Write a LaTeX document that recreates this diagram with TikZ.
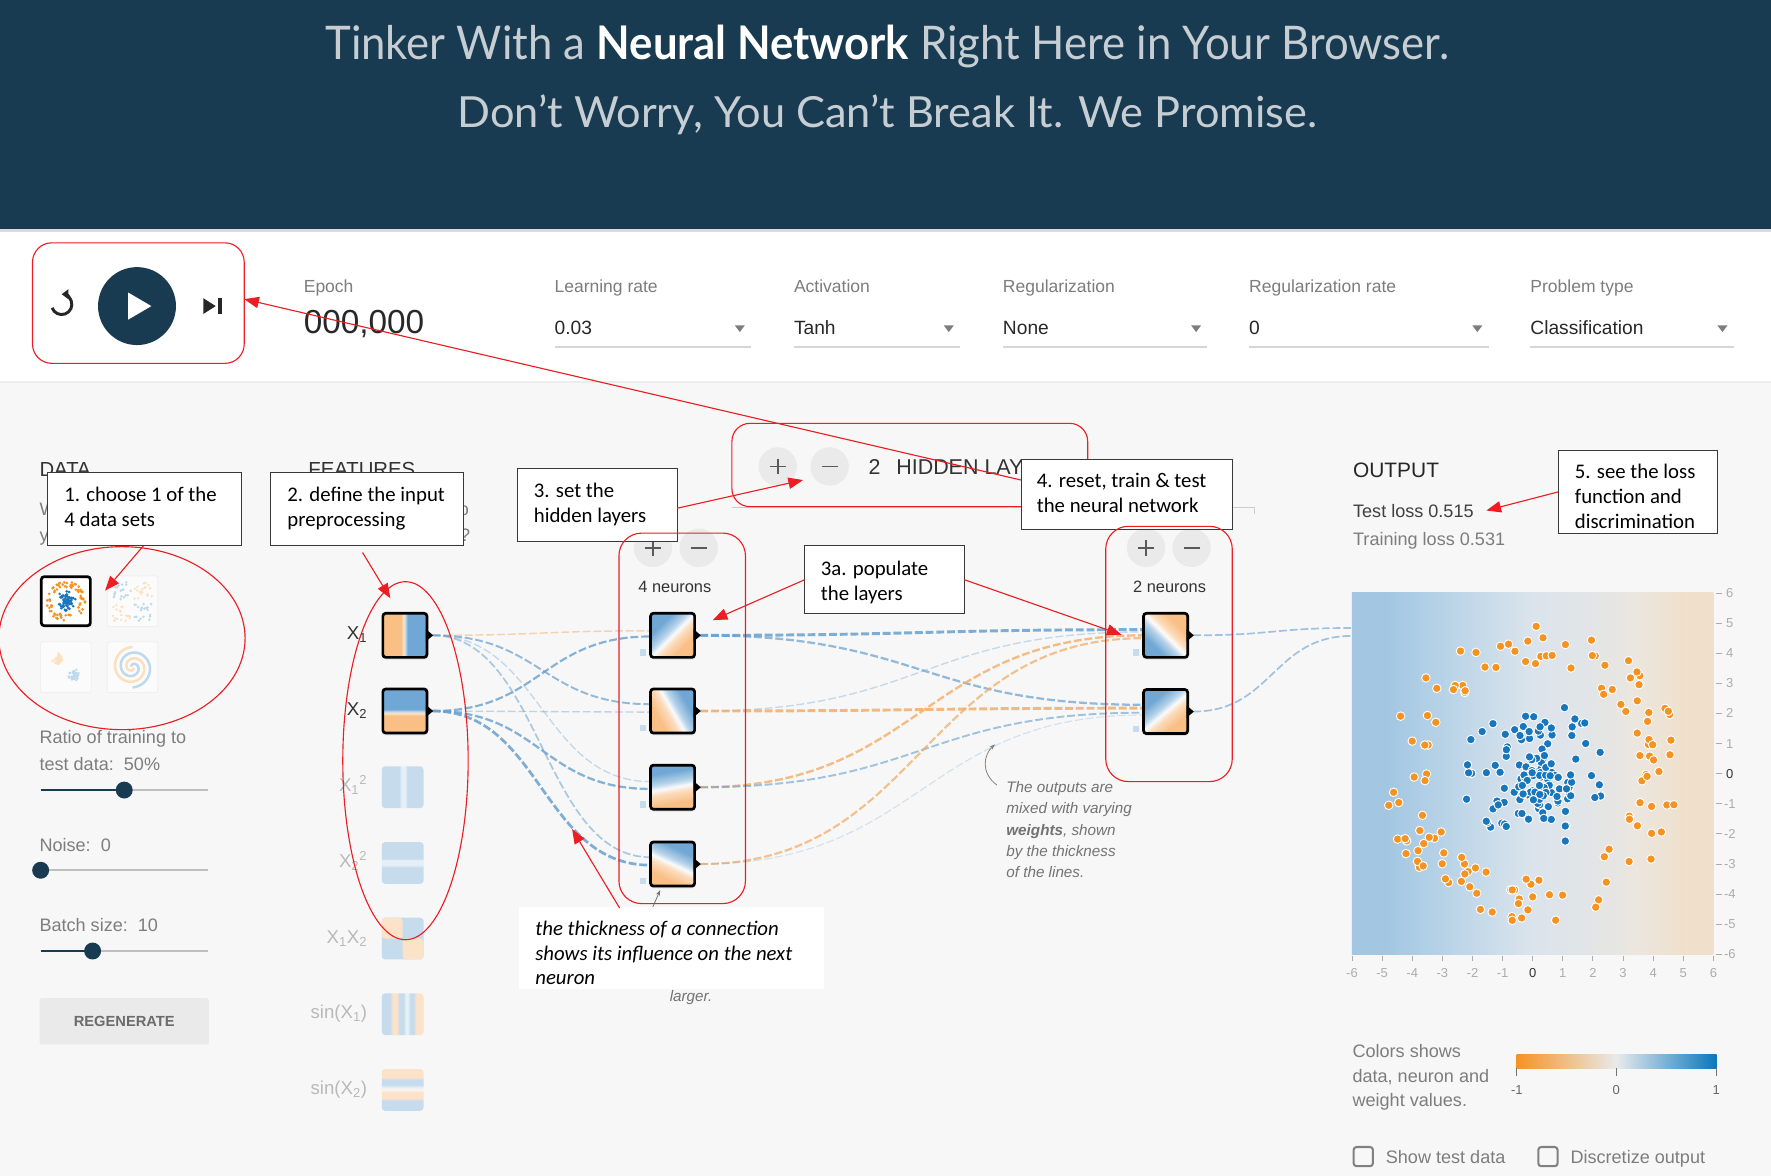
\documentclass[tikz,border=0pt]{standalone}
\usepackage{fontspec}
\usepackage{graphicx}
\setmainfont{Liberation Sans}
\newfontfamily\calfont{Carlito}
\newfontfamily\ttlfont{Lato}
\usetikzlibrary{arrows.meta,calc,shadows,shapes.geometric}

\definecolor{headbg}{RGB}{25,59,81}
\definecolor{headtxt}{RGB}{198,206,212}
\definecolor{pagebg}{RGB}{247,247,247}
\definecolor{lblgray}{RGB}{125,125,125}
\definecolor{valdark}{RGB}{40,40,40}
\definecolor{ulgray}{RGB}{214,214,214}
\definecolor{annred}{RGB}{236,30,36}
\definecolor{nblue}{RGB}{112,167,212}
\definecolor{norange}{RGB}{249,191,133}
\definecolor{lblue}{RGB}{198,220,237}
\definecolor{lorange}{RGB}{251,226,201}
\definecolor{wblue}{RGB}{104,160,206}
\definecolor{worange}{RGB}{242,174,104}
\definecolor{ptorange}{RGB}{245,147,34}
\definecolor{ptblue}{RGB}{24,118,188}
\definecolor{btngray}{RGB}{234,234,234}
\definecolor{faint}{RGB}{185,185,185}
\definecolor{pb1}{RGB}{163,199,226}
\definecolor{pb2}{RGB}{190,214,232}
\definecolor{pb3}{RGB}{219,228,236}
\definecolor{pb4}{RGB}{235,230,223}
\definecolor{pb5}{RGB}{240,223,202}
\definecolor{cmid}{RGB}{232,234,236}
\definecolor{tickgray}{RGB}{172,172,172}
\definecolor{cbblue}{RGB}{8,119,189}

\pgfdeclareverticalshading{neur}{100bp}{color(0bp)=(norange); color(32bp)=(norange); color(44bp)=(norange!55!white); color(50bp)=(white!95!nblue); color(56bp)=(nblue!50!white); color(68bp)=(nblue); color(100bp)=(nblue)}
\pgfdeclareverticalshading{neurinv}{100bp}{color(0bp)=(nblue); color(32bp)=(nblue); color(44bp)=(nblue!50!white); color(50bp)=(white!95!norange); color(56bp)=(norange!55!white); color(68bp)=(norange); color(100bp)=(norange)}
\pgfdeclarehorizontalshading{fxone}{100bp}{color(0bp)=(norange); color(45.5bp)=(norange); color(48.5bp)=(norange!45!white); color(50.5bp)=(nblue!45!white); color(53bp)=(nblue); color(100bp)=(nblue)}
\pgfdeclareverticalshading{fxtwo}{100bp}{color(0bp)=(norange); color(44.5bp)=(norange); color(47.5bp)=(norange!45!white); color(49.5bp)=(nblue!45!white); color(52bp)=(nblue); color(100bp)=(nblue)}
\pgfdeclarehorizontalshading{fsqa}{100bp}{color(0bp)=(lblue); color(46bp)=(lblue); color(48.5bp)=(lblue!45!white); color(53bp)=(lblue!45!white); color(55.5bp)=(lblue); color(100bp)=(lblue)}
\pgfdeclareverticalshading{fsqb}{100bp}{color(0bp)=(lblue); color(45bp)=(lblue); color(47.5bp)=(lblue!45!white); color(53bp)=(lblue!45!white); color(55.5bp)=(lblue); color(100bp)=(lblue)}
\pgfdeclarehorizontalshading{fsqc}{100bp}{color(0bp)=(lblue); color(35bp)=(lblue); color(38bp)=(lorange); color(43bp)=(lorange); color(46bp)=(lblue); color(51bp)=(lblue); color(54bp)=(lblue!40!white); color(56bp)=(lblue!40!white); color(59bp)=(lblue); color(63bp)=(lblue); color(66bp)=(lorange); color(100bp)=(lorange)}
\pgfdeclareverticalshading{fsqd}{100bp}{color(0bp)=(lblue); color(37bp)=(lblue); color(40bp)=(lorange); color(47bp)=(lorange); color(50bp)=(lorange!40!white); color(53bp)=(lblue!40!white); color(56bp)=(lblue); color(62bp)=(lblue); color(65bp)=(lorange); color(100bp)=(lorange)}
\pgfdeclarehorizontalshading{plotbg}{100bp}{color(0bp)=(pb1); color(30bp)=(pb1); color(40bp)=(pb2); color(50bp)=(pb3); color(58bp)=(pb3!60!pb4); color(64bp)=(pb4); color(72bp)=(pb5); color(100bp)=(pb5)}
\pgfdeclarehorizontalshading{cbar}{100bp}{color(0bp)=(ptorange); color(25bp)=(ptorange); color(50bp)=(cmid); color(75bp)=(cbblue); color(100bp)=(cbblue)}

\newcounter{tn}
\newcommand\calltxt[3]{\stepcounter{tn}\node[calltext] (ct\arabic{tn}) at (#1,#2) {#3};}
\newcommand\calltxti[3]{\stepcounter{tn}\node[calltexti] (ct\arabic{tn}) at (#1,#2) {#3};}
\newcommand\pmplus[1]{\draw[line width=1.6pt,black!65] ($(#1)+(-7,0)$) -- ($(#1)+(7,0)$) ($(#1)+(0,-7)$) -- ($(#1)+(0,7)$);}
\newcommand\pmminus[1]{\draw[line width=1.6pt,black!65] ($(#1)+(-7,0)$) -- ($(#1)+(7,0)$);}

\begin{document}
\begin{tikzpicture}[x=1pt,y=-1pt,
  every node/.style={inner sep=0pt,outer sep=0pt},
  lbl/.style={anchor=base west,text=lblgray,font=\fontsize{15.5}{18}\selectfont},
  val/.style={anchor=base west,text=valdark,font=\fontsize{17}{20}\selectfont},
  ptxt/.style={anchor=base west,text=lblgray,font=\fontsize{16}{19}\selectfont},
  flab/.style={anchor=base east,text=black!80,font=\fontsize{16.5}{19}\selectfont},
  flabf/.style={anchor=base east,text=faint,font=\fontsize{16.5}{19}\selectfont},
  callbox/.style={draw=black!78,line width=0.9pt,fill=white,anchor=north west},
  calltext/.style={anchor=base west,text=black,font=\calfont\fontsize{18.4}{22}\selectfont},
  calltexti/.style={anchor=base west,text=black,font=\calfont\itshape\fontsize{18.4}{22}\selectfont},
  anntx/.style={anchor=base west,text=black!55,font=\itshape\fontsize{13.5}{15}\selectfont},
  redbox/.style={draw=annred,line width=1pt,anchor=north west},
  redarr/.style={draw=annred,line width=1pt,-{Triangle[length=13pt,width=10pt]}},
  conn/.style={dash pattern=on 7pt off 2.5pt},
  bconn/.style={conn,draw=wblue,line width=#1},
  oconn/.style={conn,draw=worange,line width=#1},
  shad/.style={drop shadow={shadow xshift=0.5pt,shadow yshift=-2pt,opacity=0.2}},
  actbox/.style={draw=black,line width=2.4pt,rounded corners=2.5pt,minimum size=39pt,shade,shad},
  fadebox/.style={minimum size=37pt,rounded corners=3pt},
  pmc/.style={circle,fill=btngray,minimum size=#1},
  thumbbox/.style={draw=black!6,line width=0.8pt,fill=white!55!pagebg,rounded corners=2pt,minimum size=45pt},
  axlab/.style={text=tickgray,font=\fontsize{11.5}{12}\selectfont},
  cbx/.style={draw=black!50,line width=1.8pt,rounded corners=2.5pt,minimum size=17pt},
]
\useasboundingbox (0,0) rectangle (1568,1041);
% ---------- backgrounds
\fill[pagebg] (0,0) rectangle (1568,1041);
\fill[white] (0,205) rectangle (1568,337);
\fill[black!7] (0,337) rectangle (1568,339.5);
\fill[black!14] (0,203) rectangle (1568,205.5);
\fill[headbg] (0,0) rectangle (1568,203);

% ---------- header
\node[anchor=base west] (title1) at (288,52.5) {\resizebox{995pt}{30.5pt}{\ttlfont\color{headtxt}Tinker With a \textcolor{white}{\bfseries Neural Network} Right Here in Your Browser.}};
\node[anchor=base west] (title2) at (405,113) {\resizebox{761pt}{29pt}{\ttlfont\color{headtxt}Don’t Worry, You Can’t Break It. We Promise.}};

% ---------- control bar
\coordinate (rst) at (54.6,269.5);
\draw[line width=2.6pt,black!85,-{Triangle[length=6pt,width=8.5pt]}] ($(rst)+(-200:9)$) arc[start angle=-200,end angle=-450,radius=9];
\node[circle,fill=headbg,minimum size=69pt] (play) at (121.3,271) {};
\fill[white] (113.5,259) -- (134,271) -- (113.5,283) -- cycle;
\fill[black!85] (180,264) -- (191,271) -- (180,278) -- cycle;
\fill[black!85] (193,264) rectangle (196.5,278);
\node[lbl] (epl) at (269,259) {Epoch};
\node[anchor=base west,text=valdark,font=\fontsize{29.5}{30}\selectfont] (epv) at (269,295) {000,000};
\foreach \nm/\x/\w/\lab/\v in {lr/491/174/Learning rate/0.03, ac/703/147/Activation/Tanh, rg/888/181/Regularization/None, rr/1106/212/Regularization rate/0, pt/1355/180/Problem type/Classification}{
  \node[lbl] (\nm-l) at (\x,259) {\lab};
  \node[val] (\nm-v) at (\x,296) {\v};
  \draw[ulgray,line width=2pt] (\x,307) -- ++(\w,0);
  \fill[lblgray] ({\x+\w-14.5},288) -- ++(9,0) -- ++(-4.5,6) -- cycle;
}

% ---------- left panel texts
\node[anchor=base west,text=black!80,font=\fontsize{18}{20}\selectfont] (datah) at (35,422) {DATA};
\node[anchor=base west,text=black!80,font=\fontsize{18}{20}\selectfont] (feath) at (273,422) {FEATURES};
\node[ptxt] (dq1) at (35,456) {Which dataset do};
\node[ptxt] (dq2) at (35,479) {you want to use?};
\node[ptxt] (fq1) at (273,456) {Which properties do};
\node[ptxt] (fq2) at (273,479) {you want to feed in?};

% data thumbnails
\pgfmathsetseed{4711}
\node[draw=black,line width=2.4pt,fill=white,rounded corners=2.5pt,minimum size=43.4pt] (ds1) at (58.3,532.3) {};
\foreach \i in {1,...,75}{
  \pgfmathsetmacro\myang{360*rnd}\pgfmathsetmacro\myrad{3.5*(3.5+1.5*rnd)}
  \fill[ptorange] ({58.3+\myrad*cos(\myang)},{532.3+\myrad*sin(\myang)}) circle[radius=1.3];}
\foreach \i in {1,...,75}{
  \pgfmathsetmacro\myang{360*rnd}\pgfmathsetmacro\myrad{3.5*2.5*rnd}
  \fill[ptblue] ({58.3+\myrad*cos(\myang)},{532.3+\myrad*sin(\myang)}) circle[radius=1.3];}
\node[thumbbox] (ds2) at (117.3,532.3) {};
\foreach \sx/\sy/\col in {-1/-1/ptblue, 1/-1/ptorange, -1/1/ptorange, 1/1/ptblue}{
  \foreach \i in {1,...,20}{
    \pgfmathsetmacro\px{117.3+\sx*3.5*(0.4+4.6*rnd)}
    \pgfmathsetmacro\py{532.3+\sy*3.5*(0.4+4.6*rnd)}
    \fill[\col!28!white] (\px,\py) circle[radius=1.2];}}
\node[thumbbox] (ds3) at (58.3,590.7) {};
\foreach \cx/\cy/\col in {51.3/583.7/ptorange, 65.5/598/ptblue}{
  \foreach \i in {1,...,40}{
    \pgfmathsetmacro\px{\cx+4.2*(rnd+rnd+rnd-1.5)}
    \pgfmathsetmacro\py{\cy+4.2*(rnd+rnd+rnd-1.5)}
    \fill[\col!28!white] (\px,\py) circle[radius=1.2];}}
\node[thumbbox] (ds4) at (117.3,590.7) {};
\draw[ptorange!30!white,line width=2.2pt] plot[smooth,domain=0.05:1,samples=60] ({117.3+18*\x*cos(630*\x)},{590.7+18*\x*sin(630*\x)});
\draw[ptblue!28!white,line width=2.2pt] plot[smooth,domain=0.05:1,samples=60] ({117.3+18*\x*cos(630*\x+180)},{590.7+18*\x*sin(630*\x+180)});

% sliders
\node[ptxt] (ratio1) at (35,658) {Ratio of training to};
\node[ptxt] (ratio2) at (35,682.3) {test data:\ \ 50\%};
\draw[black!25,line width=2pt] (36,699.5) -- (184,699.5);
\draw[headbg,line width=2.4pt] (36,699.5) -- (110,699.5);
\node[circle,fill=headbg,minimum size=15pt] (k1) at (110,699.5) {};
\node[ptxt] (noise) at (35,754) {Noise:\ \ 0};
\draw[black!25,line width=2pt] (36,770.5) -- (184,770.5);
\node[circle,fill=headbg,minimum size=15pt] (k2) at (36,770.5) {};
\node[ptxt] (batch) at (35,825) {Batch size:\ \ 10};
\draw[black!25,line width=2pt] (36,842) -- (184,842);
\draw[headbg,line width=2.4pt] (36,842) -- (82,842);
\node[circle,fill=headbg,minimum size=15pt] (k3) at (82,842) {};
\node[fill=btngray,minimum width=150pt,minimum height=41pt,rounded corners=2pt,font=\bfseries\fontsize{13}{14}\selectfont,text=black!58] (regen) at (110,904.3) {REGENERATE};

% ---------- feature nodes
\node[actbox,shading=fxone] (fx1) at (358.5,562.5) {};
\node[actbox,shading=fxtwo] (fx2) at (358.5,629.5) {};
\node[fadebox,shade,shading=fsqa] (fx3) at (356.5,697) {};
\node[fadebox,shade,shading=fsqb] (fx4) at (356.5,764) {};
\node[fadebox,fill=lblue,path picture={
   \fill[lorange] (path picture bounding box.north west) rectangle (path picture bounding box.center);
   \fill[lorange] (path picture bounding box.center) rectangle (path picture bounding box.south east);}] (fx5) at (356.5,831) {};
\node[fadebox,shade,shading=fsqc] (fx6) at (356.5,898) {};
\node[fadebox,shade,shading=fsqd] (fx7) at (356.5,965) {};
\node[flab] (lx1) at (325,566.5) {X\textsubscript{1}};
\node[flab] (lx2) at (325,633.5) {X\textsubscript{2}};
\node[flabf] (lx3) at (325,701) {X\textsubscript{1}\textsuperscript{2}};
\node[flabf] (lx4) at (325,768) {X\textsubscript{2}\textsuperscript{2}};
\node[flabf] (lx5) at (325,835) {X\textsubscript{1}X\textsubscript{2}};
\node[flabf] (lx6) at (325,902) {sin(X\textsubscript{1})};
\node[flabf] (lx7) at (325,969) {sin(X\textsubscript{2})};

% layer 1 header
\node[pmc=34pt] (p1) at (578,485) {}; \pmplus{p1}
\node[pmc=34pt] (q1) at (618.6,485) {}; \pmminus{q1}
\node[anchor=base,text=black!80,font=\fontsize{14.5}{16}\selectfont] (l1t) at (597.5,524.4) {4 neurons};
% layer 2 header
\node[pmc=34pt] (p2) at (1014.7,485) {}; \pmplus{p2}
\node[pmc=34pt] (q2) at (1055,485) {}; \pmminus{q2}
\node[anchor=base,text=black!80,font=\fontsize{14.5}{16}\selectfont] (l2t) at (1035.5,524.4) {2 neurons};

% hidden layers header
\draw[black!20,line width=1pt] (648,449) -- (1111,449) -- (1111,455);
\node[pmc=34pt] (ph) at (688.6,413) {}; \pmplus{ph}
\node[pmc=34pt] (qh) at (734.5,413) {}; \pmminus{qh}
\node[anchor=base west,text=black!80,font=\fontsize{19}{20}\selectfont] (hl) at (769,419.8) {2\hspace{14pt}HIDDEN LAYERS};
\node[redbox,rounded corners=16pt,minimum width=315pt,minimum height=73.8pt] (rhid) at (648,374.8) {};

% coordinates of neuron centres and connector ends
\path (595.5,562.5) coordinate (cn1) (595.5,629.5) coordinate (cn2) (595.5,697) coordinate (cn3) (595.5,765) coordinate (cn4) (1032,562.5) coordinate (cm1) (1032,630) coordinate (cm2);
\coordinate (sx1) at ($(fx1.east)+(5,0)$);
\coordinate (sx2) at ($(fx2.east)+(5,0)$);
\foreach \k in {1,2,3,4}{\coordinate (sn\k) at ($(cn\k)+(24.5,0)$); \coordinate (en\k) at ($(cn\k)+(-19.5,0)$);}
\foreach \k in {1,2}{\coordinate (sm\k) at ($(cm\k)+(24.5,0)$); \coordinate (em\k) at ($(cm\k)+(-19.5,0)$);}

% plot node (background)
\node[minimum size=320pt,shade,shading=plotbg] (plot) at (1357,685) {};

% ---------- connections input -> layer 1
\draw[oconn=1.3,opacity=.5] (sx1) .. controls +(96,0) and +(-96,0) .. ($(en1)+(0,-4)$);
\draw[bconn=1.9,opacity=.8] (sx2) .. controls +(96,0) and +(-96,0) .. ($(en1)+(0,1)$);
\draw[bconn=1.7,opacity=.7] (sx1) .. controls +(96,0) and +(-96,0) .. ($(en2)+(0,-6)$);
\draw[bconn=1.2,opacity=.4] (sx2) .. controls +(96,0) and +(-96,0) .. ($(en2)+(0,1)$);
\draw[bconn=1.2,opacity=.35] (sx1) .. controls +(96,0) and +(-96,0) .. ($(en3)+(0,-5)$);
\draw[bconn=2.0,opacity=.8] (sx2) .. controls +(96,0) and +(-96,0) .. ($(en3)+(0,1.5)$);
\draw[bconn=1.5,opacity=.55] (sx1) .. controls +(96,0) and +(-96,0) .. ($(en4)+(0,-6)$);
\draw[bconn=2.4,opacity=.85] (sx2) .. controls +(96,0) and +(-96,0) .. ($(en4)+(0,1)$);
% layer 1 -> layer 2
\draw[bconn=2.6,opacity=.85] (sn1) .. controls +(196,0) and +(-196,0) .. ($(em1)+(0,-5)$);
\draw[bconn=2.0,opacity=.7] (sn1) .. controls +(196,0) and +(-196,0) .. ($(em2)+(0,-6)$);
\draw[bconn=1.2,opacity=.35] (sn2) .. controls +(196,0) and +(-196,0) .. ($(em1)+(0,-3)$);
\draw[oconn=2.6,opacity=.85] (sn2) .. controls +(196,0) and +(-196,0) .. ($(em2)+(0,-3)$);
\draw[oconn=2.1,opacity=.8] (sn3) .. controls +(196,0) and +(-196,0) .. ($(em1)+(0,0)$);
\draw[bconn=1.7,opacity=.6] (sn3) .. controls +(196,0) and +(-196,0) .. ($(em2)+(0,1)$);
\draw[oconn=1.9,opacity=.75] (sn4) .. controls +(196,0) and +(-196,0) .. ($(em1)+(0,2.5)$);
\draw[bconn=1.0,opacity=.25] (sn4) .. controls +(196,0) and +(-196,0) .. ($(em2)+(0,3)$);
% layer 2 -> output
\draw[bconn=1.5,opacity=.6] (sm1) .. controls +(70,0) and +(-70,0) .. ($(plot.north west)+(0,31)$);
\draw[bconn=1.5,opacity=.6] (sm2) .. controls +(70,0) and +(-70,0) .. ($(plot.north west)+(0,38)$);

% ---------- neurons
\node[actbox,shading=neur,shading angle=45] (n1) at (cn1) {};
\node[actbox,shading=neur,shading angle=-60] (n2) at (cn2) {};
\node[actbox,shading=neur,shading angle=10] (n3) at (cn3) {};
\node[actbox,shading=neur,shading angle=-25] (n4) at (cn4) {};
\node[actbox,shading=neurinv,shading angle=-45] (m1) at (cm1) {};
\node[actbox,shading=neur,shading angle=40] (m2) at (cm2) {};
\foreach \nd in {fx1,fx2,n1,n2,n3,n4,m1,m2}{
  \fill[black] ($(\nd.east)+(-1,-5.5)$) -- ++(6.5,5.5) -- ++(-6.5,5.5) -- cycle;}
\foreach \nd in {n1,n2,n3,n4,m1,m2}{
  \fill[lblue] ($(\nd.south west)+(-9.5,-7)$) rectangle ++(5.5,5.5);}

% ---------- annotation of outputs
\node[anntx] (an1) at (891,702) {The outputs are};
\node[anntx] (an2) at (891,720.5) {mixed with varying};
\node[anntx] (an3) at (891,739.5) {\textbf{weights}, shown};
\node[anntx] (an4) at (891,758) {by the thickness};
\node[anntx] (an5) at (891,776.5) {of the lines.};
\coordinate (ga1) at (882.5,695); \coordinate (ga2) at (881,659);
\draw[black!50,line width=0.7pt,-{Stealth[length=5pt,width=3.5pt]}] (ga1) .. controls (868,684) and (871,668) .. (ga2);
\coordinate (gb1) at (578,803); \coordinate (gb2) at (584.5,788);
\draw[black!55,line width=0.7pt,-{Stealth[length=5pt,width=3.5pt]}] (gb1) -- (gb2);
\node[anntx] (larger) at (593,887) {larger.};

% ---------- output panel
\node[anchor=base west,text=black!85,font=\fontsize{18.5}{20}\selectfont] (outh) at (1198,423) {OUTPUT};
\node[anchor=base west,text=black!75,font=\fontsize{16}{18}\selectfont] (tloss) at (1198,458.5) {Test loss 0.515};
\node[anchor=base west,text=lblgray,font=\fontsize{16}{18}\selectfont] (trloss) at (1198,483) {Training loss 0.531};
\pgfmathsetseed{2718}
\foreach \i in {1,...,130}{
  \pgfmathsetmacro\myang{360*rnd}\pgfmathsetmacro\myrad{26.667*(3.5+1.5*rnd)}
  \fill[ptorange,draw=white,line width=0.8pt] ({1357+\myrad*cos(\myang)},{685+\myrad*sin(\myang)}) circle[radius=3.8];}
\foreach \i in {1,...,140}{
  \pgfmathsetmacro\myang{360*rnd}\pgfmathsetmacro\myrad{26.667*2.5*rnd}
  \fill[ptblue,draw=white,line width=0.8pt] ({1357+\myrad*cos(\myang)},{685+\myrad*sin(\myang)}) circle[radius=3.8];}
\foreach \k [count=\j] in {-6,...,6}{
  \draw[tickgray,line width=0.8pt] (1519,{685-26.667*\k}) -- (1525,{685-26.667*\k});
  \draw[tickgray,line width=0.8pt] ({1357+26.667*\k},846) -- ({1357+26.667*\k},851);
  \ifnum\k=0
    \node[axlab,text=black!80] (ry\j) at (1531.5,{685-26.667*\k}) {\k};
    \node[axlab,text=black!80] (rx\j) at ({1357+26.667*\k},861.5) {\k};
  \else
    \node[axlab] (ry\j) at (1531.5,{685-26.667*\k}) {\k};
    \node[axlab] (rx\j) at ({1357+26.667*\k},861.5) {\k};
  \fi
}
% colour legend
\node[ptxt] (col1) at (1197.5,936) {Colors shows};
\node[ptxt] (col2) at (1197.5,958) {data, neuron and};
\node[ptxt] (col3) at (1197.5,980) {weight values.};
\node[minimum width=177pt,minimum height=12pt,shade,shading=cbar] (cbar) at (1431.3,940) {};
\foreach \tx/\tl [count=\j] in {1343/-1,1431/0,1519.5/1}{
  \draw[black!55,line width=0.8pt] (\tx,946) -- (\tx,953);
  \node[axlab,text=black!60] (cbl\j) at (\tx,965) {\tl};}
\node[cbx] (cb1) at (1207,1024) {};
\node[ptxt] (cbt1) at (1227,1030) {Show test data};
\node[cbx] (cb2) at (1370.5,1024) {};
\node[ptxt] (cbt2) at (1390.5,1030) {Discretize output};

% ---------- callout boxes
\node[callbox,minimum width=171.5pt,minimum height=65pt] (c1) at (42.3,418.2) {};
\calltxt{57}{444}{1. choose 1 of the}
\calltxt{57}{466}{4 data sets}
\node[callbox,minimum width=171pt,minimum height=65pt] (c2) at (239.6,418.2) {};
\calltxt{254.5}{444}{2. define the input}
\calltxt{254.5}{466}{preprocessing}
\node[callbox,minimum width=141.5pt,minimum height=65pt] (c3) at (458,414.6) {};
\calltxt{472.7}{440.3}{3. set the}
\calltxt{472.7}{462.3}{hidden layers}
\node[callbox,minimum width=187pt,minimum height=62pt] (c4) at (904,407) {};
\calltxt{918}{431.5}{4. reset, train \& test}
\calltxt{918}{453.5}{the neural network}
\node[callbox,minimum width=141pt,minimum height=59.6pt] (c3a) at (712.6,483.4) {};
\calltxt{726.8}{509.5}{3a. populate}
\calltxt{726.8}{531.5}{the layers}
\node[callbox,minimum width=141.4pt,minimum height=74pt] (c5) at (1379.6,398.5) {};
\calltxt{1394.4}{424}{5. see the loss}
\calltxt{1394.4}{446}{function and}
\calltxt{1394.4}{468}{discrimination}
\node[fill=white,minimum width=270pt,minimum height=73pt,anchor=north west] (c6) at (459.6,803) {};
\calltxti{474}{828}{the thickness of a connection}
\calltxti{474}{850}{shows its influence on the next}
\calltxti{474}{872}{neuron}

% ---------- red highlights
\node[redbox,rounded corners=17pt,minimum width=187.4pt,minimum height=106.7pt] (rplay) at (28.8,215) {};
\node[redbox,rounded corners=20pt,minimum width=112pt,minimum height=328pt] (rl1) at (548,472) {};
\node[redbox,rounded corners=20pt,minimum width=112pt,minimum height=226pt] (rl2) at (979,466) {};
\node[draw=annred,line width=1pt,ellipse,minimum width=218pt,minimum height=162pt] (rdata) at (108,565) {};
\node[draw=annred,line width=1pt,ellipse,minimum width=111pt,minimum height=317pt] (rfeat) at (359,673.5) {};

\coordinate (t1) at (93,523);
\coordinate (t2) at (345.6,529.7);
\coordinate (t3) at (711,425);
\coordinate (t3a) at (631,549);
\coordinate (t3b) at (993,562);
\coordinate (t4) at ($(rplay.east)+(0,-3.5)$);
\coordinate (t5) at (1316,452);
\coordinate (t6) at (506.5,734);
\draw[redarr] ($(c1.south west)+(84.7,0)$) -- (t1);
\draw[redarr] ($(c2.south west)+(81.4,6)$) -- (t2);
\draw[redarr] ($(c3.north east)+(0,35.4)$) -- (t3);
\draw[redarr] (c3a.west) -- (t3a);
\draw[redarr] (c3a.east) -- (t3b);
\draw[redarr] ($(c4.north west)+(0,18)$) -- (t4);
\draw[redarr] (c5.west) -- (t5);
\draw[redarr] ($(c6.north west)+(89,1)$) -- (t6);
\end{tikzpicture}
\end{document}
